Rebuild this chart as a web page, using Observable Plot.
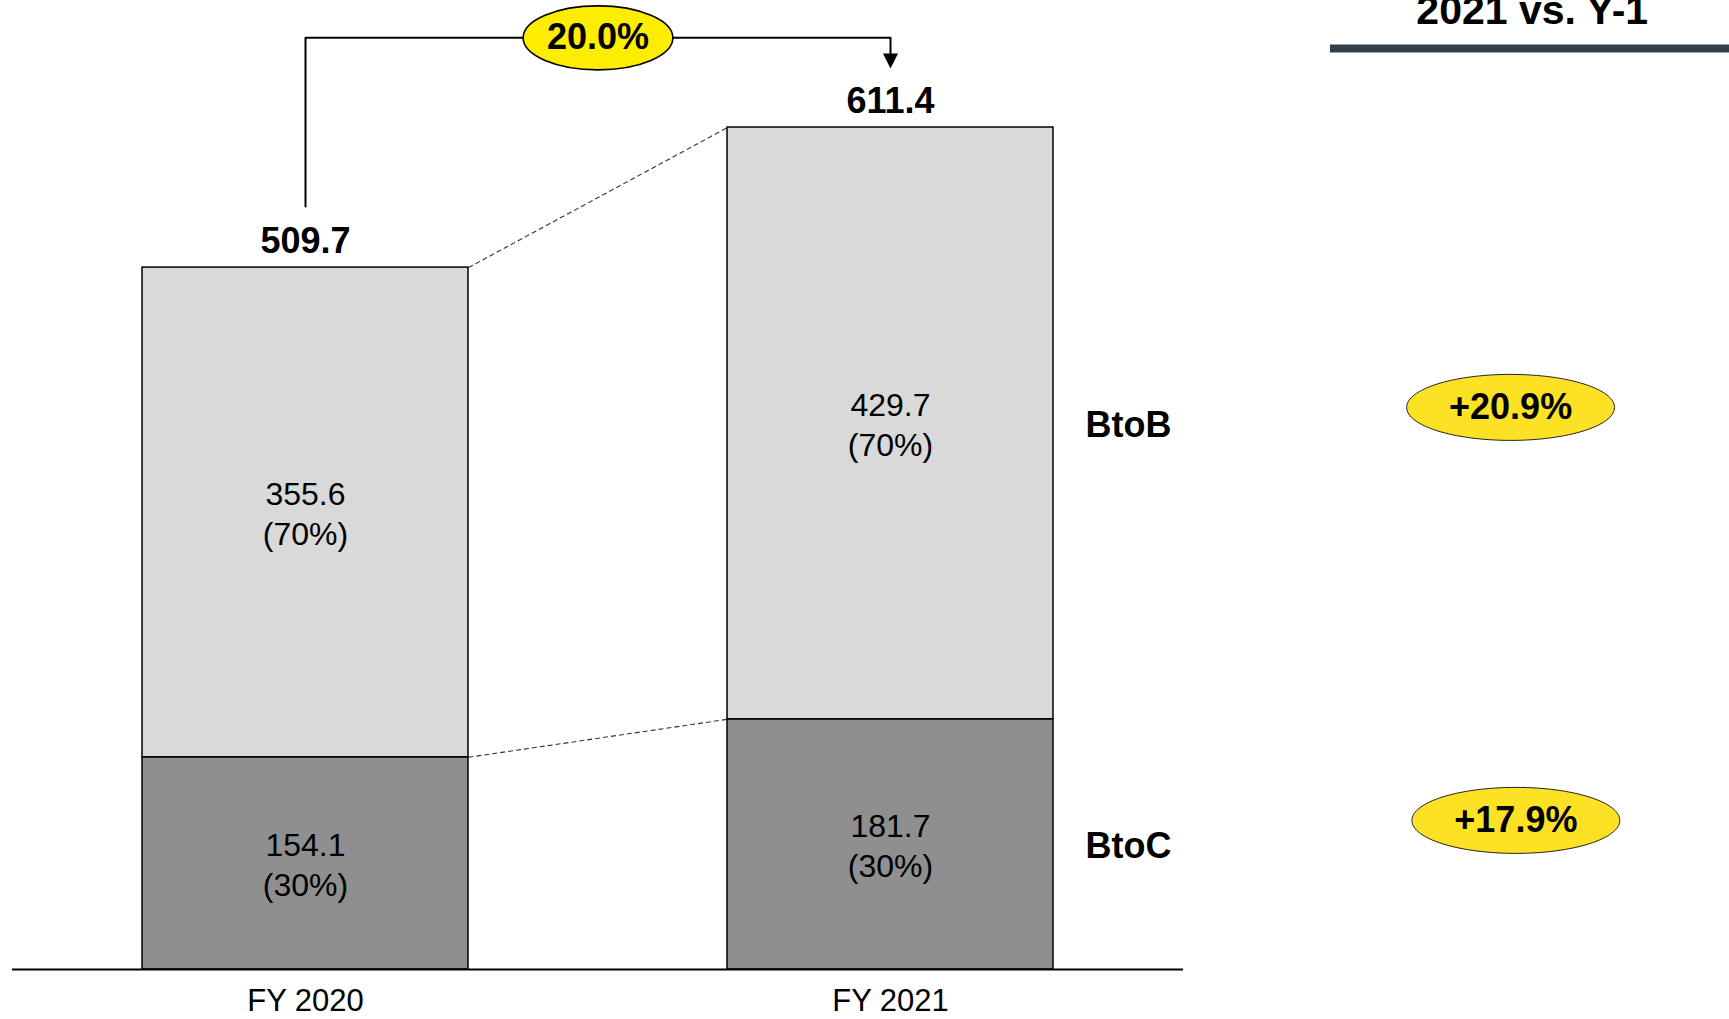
<!DOCTYPE html>
<html><head><meta charset="utf-8">
<script src="https://cdn.jsdelivr.net/npm/d3@7"></script>
<script src="https://cdn.jsdelivr.net/npm/@observablehq/plot@0.6"></script>
<style>html,body{margin:0;padding:0;background:#fff;overflow:hidden}</style>
</head><body><div id="chart"></div>
<script>
// ---- data ----
const years = ["FY 2020", "FY 2021"];
const segments = ["BtoC", "BtoB"]; // bottom to top
const btocValues = [154.1, 181.7];
const btobValues = [355.6, 429.7];
const btocShares = ["(30%)", "(30%)"];
const btobShares = ["(70%)", "(70%)"];
const totals = [509.7, 611.4];
const totalGrowth = "20.0%";
const segmentGrowth = ["+17.9%", "+20.9%"]; // BtoC, BtoB
const columnTitle = "2021 vs. Y-1";

// ---- derived table ----
const rows = years.flatMap((year, i) => [
  {i, year, seg: "BtoC", y1: 0, y2: btocValues[i], value: btocValues[i], share: btocShares[i]},
  {i, year, seg: "BtoB", y1: btocValues[i], y2: btocValues[i] + btobValues[i], value: btobValues[i], share: btobShares[i]}
]);
const last = rows.filter(d => d.i === 1);
const mid = d => (d.y1 + d.y2) / 2;

const hw = 0.2786; // half bar width in x units
const font = "'Liberation Sans', Arial, Helvetica, sans-serif";

const ellipse = (ratio) => ({
  draw(ctx, size) {
    const ry = Math.sqrt(size / Math.PI), rx = ry * ratio, k = 0.5523;
    ctx.moveTo(rx, 0);
    ctx.bezierCurveTo(rx, k * ry, k * rx, ry, 0, ry);
    ctx.bezierCurveTo(-k * rx, ry, -rx, k * ry, -rx, 0);
    ctx.bezierCurveTo(-rx, -k * ry, -k * rx, -ry, 0, -ry);
    ctx.bezierCurveTo(k * rx, -ry, rx, -k * ry, rx, 0);
    ctx.closePath();
  }
});
const downTri = {
  draw(ctx, size) {
    const s = Math.sqrt(size / Math.PI);
    ctx.moveTo(0, s * 2);
    ctx.lineTo(-s * 1.5, -s);
    ctx.lineTo(s * 1.5, -s);
    ctx.closePath();
  }
};

const arrowPts = [
  {x: 0, y: totals[0] + 44.3},
  {x: 0, y: 676.5},
  {x: 1, y: 676.5},
  {x: 1, y: 661.6}
];

const growthOffsets = {BtoC: -24, BtoB: -16};
const growthX = {BtoC: 2.069, BtoB: 2.06};

const chart = Plot.plot({
  width: 1729, height: 1019,
  marginTop: 5, marginBottom: 50, marginLeft: 0, marginRight: 0,
  x: {domain: [-0.5214, 2.4342]},
  y: {domain: [0, 700], axis: null},
  color: {domain: ["BtoB", "BtoC"], range: ["#d9d9d9", "#8f8f8f"]},
  style: {fontFamily: font, background: "#fff", color: "#000"},
  marks: [
    Plot.rectY(rows, {x1: d => d.i - hw, x2: d => d.i + hw, y1: "y1", y2: "y2", fill: "seg", stroke: "#000", strokeWidth: 1.5}),
    Plot.link([
      {x1: hw, y1: totals[0], x2: 1 - hw, y2: totals[1]},
      {x1: hw, y1: btocValues[0], x2: 1 - hw, y2: btocValues[1]}
    ], {x1: "x1", y1: "y1", x2: "x2", y2: "y2", stroke: "#333", strokeWidth: 1.1, strokeDasharray: "5,3"}),
    Plot.ruleY([0], {x1: -0.5009, x2: 1.5009, stroke: "#000", strokeWidth: 2}),
    Plot.text(rows, {x: "i", y: mid, text: d => `${d.value.toFixed(1)}\n${d.share}`, fontSize: 32, lineHeight: 1.25}),
    Plot.text(totals, {x: (d, i) => i, y: d => d, text: d => d.toFixed(1), dy: -26, fontSize: 36, fontWeight: "bold"}),
    Plot.text(last, {x: 1.3333, y: mid, dy: 2, text: "seg", textAnchor: "start", fontSize: 36, fontWeight: "bold"}),
    Plot.line(arrowPts, {x: "x", y: "y", stroke: "#000", strokeWidth: 2}),
    Plot.dot([arrowPts[3]], {x: "x", y: "y", symbol: downTri, r: 5, fill: "#000", stroke: "none"}),
    Plot.dot([0.5], {x: d => d, y: () => 676.5, symbol: ellipse(2.34), r: 32, fill: "#ffed00", stroke: "#000", strokeWidth: 1.6}),
    Plot.text([totalGrowth], {x: () => 0.5, y: () => 676.5, text: d => d, fontSize: 36, fontWeight: "bold"}),
    ...segments.map((seg) => Plot.dot(last.filter(d => d.seg === seg), {x: () => growthX[seg], y: mid, dy: growthOffsets[seg], symbol: ellipse(3.15), r: 33, fill: "#fde124", stroke: "#222", strokeWidth: 1})),
    ...segments.map((seg, k) => Plot.text(last.filter(d => d.seg === seg), {x: () => growthX[seg], y: mid, dy: growthOffsets[seg], text: () => segmentGrowth[k], fontSize: 36, fontWeight: "bold"})),
    Plot.text([columnTitle], {x: () => 2.097, y: () => 695.9, text: d => d, fontSize: 41, fontWeight: "bold"}),
    Plot.ruleY([668.8], {x1: 1.752, x2: 2.44, stroke: "#333f48", strokeWidth: 8}),
    Plot.axisX({ticks: [0, 1], tickFormat: i => years[i], tickSize: 0, tickPadding: 19, fontSize: 31, label: null})
  ]
});
document.getElementById("chart").appendChild(chart);
</script>
</body></html>
